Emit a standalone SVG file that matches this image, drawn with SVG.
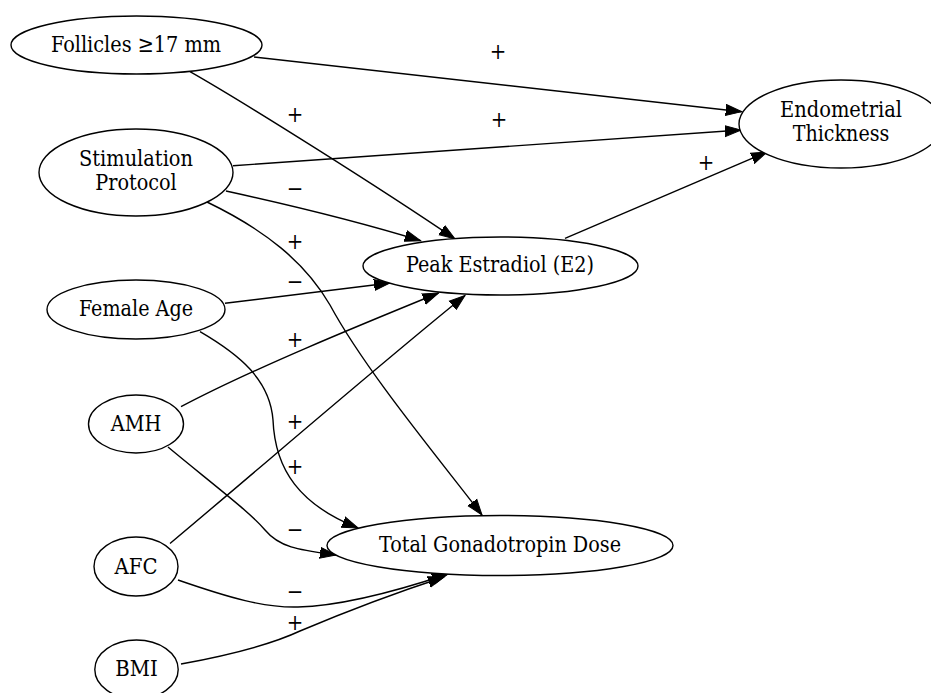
<svg xmlns="http://www.w3.org/2000/svg" width="931" height="693" viewBox="0 0 931 693">
<defs>
<style>
.n ellipse{fill:#fff;stroke:#000;stroke-width:1.4}
text{font-family:"DejaVu Serif Condensed","DejaVu Serif",serif;font-stretch:condensed;font-size:23px;fill:#000;text-anchor:middle}
.lb text{font-size:22px}
.e path{fill:none;stroke:#000;stroke-width:1.4;marker-end:url(#arr)}
</style>
<marker id="arr" markerUnits="userSpaceOnUse" markerWidth="18" markerHeight="14" refX="16" refY="6" orient="auto" viewBox="0 0 18 12">
<path d="M0,0.5 L16,6 L0,11.5 Z" fill="#000" stroke="#000" stroke-width="1"/>
</marker>
</defs>
<rect width="931" height="693" fill="#fff"/>
<g id="edges" class="e">
<path d="M254,57 L741.7,111.7"/>
<path d="M233,165.7 L741,130"/>
<path d="M565,238.3 L767,152"/>
<path d="M190,71.7 C245,103 380,188 455,239"/>
<path d="M226,191 C290,205 360,222 420.7,240.7"/>
<path d="M207,202 C265,230 305,262 330,305 C365,370 440,460 482,515"/>
<path d="M225,303.3 L390,283"/>
<path d="M181,406.7 C250,370 360,325 438.5,293"/>
<path d="M170,543.5 C260,468 380,364 465,295.5"/>
<path d="M200,331.7 C240,355 270,380 273,420 C275,470 300,505 358,528"/>
<path d="M168,447 C210,482 250,512 265,530 C280,548 300,550 336,555"/>
<path d="M178,580 C230,598 265,608 298,607 C340,606 400,590 448,574"/>
<path d="M181,664 C230,655 270,645 300,631 C345,612 395,593 444,577"/>
</g>
<g id="labels" class="lb">
<text x="498" y="59">+</text>
<text x="499" y="127">+</text>
<text x="706" y="170">+</text>
<text x="295" y="122">+</text>
<text x="295" y="196">−</text>
<text x="295" y="249">+</text>
<text x="295" y="289">−</text>
<text x="295" y="347">+</text>
<text x="295" y="429">+</text>
<text x="295" y="474">+</text>
<text x="295" y="537">−</text>
<text x="295" y="599">−</text>
<text x="295" y="630">+</text>
</g>
<g id="follicles" class="n"><ellipse cx="136.5" cy="45" rx="125.5" ry="29"/><text x="136" y="52" textLength="170" lengthAdjust="spacingAndGlyphs">Follicles ≥17 mm</text></g>
<g id="stimulation" class="n"><ellipse cx="136" cy="172.5" rx="97" ry="43.5"/><text x="136" y="166" textLength="114" lengthAdjust="spacingAndGlyphs">Stimulation</text><text x="136" y="190" textLength="81.5" lengthAdjust="spacingAndGlyphs">Protocol</text></g>
<g id="female_age" class="n"><ellipse cx="136" cy="309.5" rx="89" ry="29.5"/><text x="136" y="316" textLength="114" lengthAdjust="spacingAndGlyphs">Female Age</text></g>
<g id="amh" class="n"><ellipse cx="136" cy="424" rx="47.5" ry="29"/><text x="136" y="431" textLength="50.5" lengthAdjust="spacingAndGlyphs">AMH</text></g>
<g id="afc" class="n"><ellipse cx="136" cy="566.5" rx="42" ry="29.5"/><text x="136" y="573.5" textLength="43" lengthAdjust="spacingAndGlyphs">AFC</text></g>
<g id="bmi" class="n"><ellipse cx="136.5" cy="669.5" rx="41.7" ry="29.5"/><text x="136.5" y="676" textLength="42.5" lengthAdjust="spacingAndGlyphs">BMI</text></g>
<g id="peak_e2" class="n"><ellipse cx="500.5" cy="266" rx="137.5" ry="29"/><text x="500" y="272" textLength="188" lengthAdjust="spacingAndGlyphs">Peak Estradiol (E2)</text></g>
<g id="total_gonadotropin" class="n"><ellipse cx="500" cy="545.5" rx="173" ry="30"/><text x="500" y="552" textLength="242" lengthAdjust="spacingAndGlyphs">Total Gonadotropin Dose</text></g>
<g id="endometrial" class="n"><ellipse cx="841" cy="124" rx="102" ry="44"/><text x="841" y="117" textLength="122" lengthAdjust="spacingAndGlyphs">Endometrial</text><text x="841" y="141" textLength="96.5" lengthAdjust="spacingAndGlyphs">Thickness</text></g>
</svg>
